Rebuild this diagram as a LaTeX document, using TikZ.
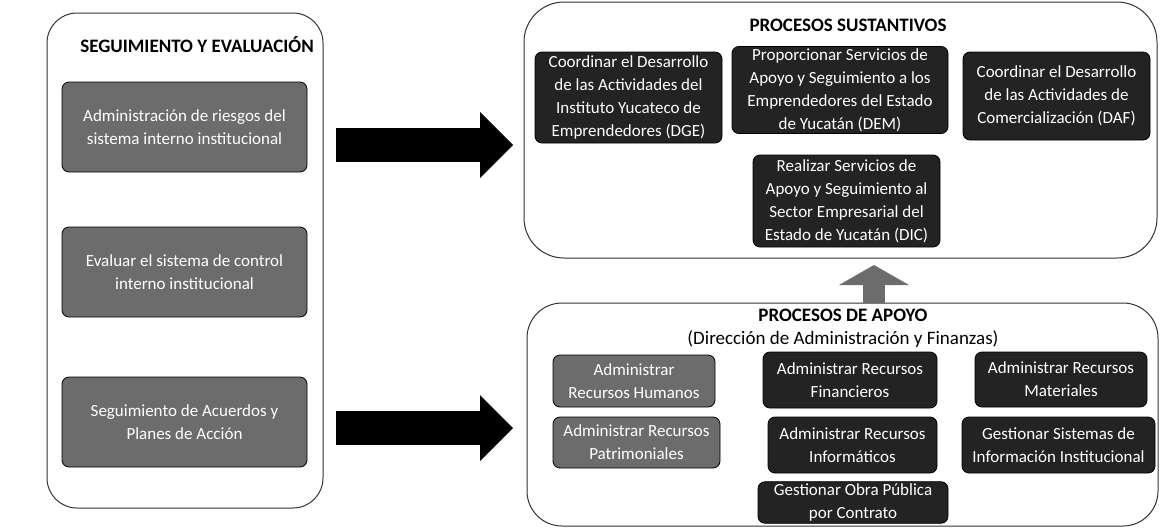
\documentclass[tikz,border=0pt]{standalone}
\usepackage{fontspec}
\setmainfont{Carlito}
\usepackage{tikz}
\usetikzlibrary{arrows.meta,positioning,calc}
\definecolor{pmid}{HTML}{6C6C6C}
\definecolor{pdark}{HTML}{232323}
\definecolor{pline}{HTML}{333333}
\tikzset{
  % Large rounded frame holding one group of processes.
  grp/.style   = {rectangle, rounded corners=#1, draw=pline, line width=1pt, fill=white},
  grp/.default = 35pt,
  blk/.style   = {rectangle, rounded corners=7pt, draw=black, fill=#1, line width=0.8pt,
                  text=white, align=center, inner sep=2pt,
                  font=\fontsize{17}{23}\selectfont},
  blk/.default = pmid,
  ttl/.style   = {font=\fontsize{19}{23}\selectfont\bfseries, align=center},
  fat/.style   = {-{Triangle[length=33pt,width=66pt,line width=0pt]}, line width=34pt, black},
  up/.style    = {-{Triangle[length=20pt,width=70pt,line width=0pt]}, line width=22pt, pmid},
}
\begin{document}
\begin{tikzpicture}[x=1pt,y=-1pt]
\useasboundingbox (0,0) rectangle (1162,528);
% seguimiento y evaluacion
\node[grp=30pt, minimum width=276pt, minimum height=495pt] (seg) at (185,260.5) {};
\node[ttl] (segt) at (197,45) {SEGUIMIENTO Y EVALUACIÓN};
\node[blk, minimum width=245pt, minimum height=90pt] (riesgo) at (184.5,127)
      {Administración de riesgos del\\sistema interno institucional};
\node[blk, minimum width=245pt, minimum height=90pt] (evaluar) at (184.5,272)
      {Evaluar el sistema de control\\interno institucional};
\node[blk, minimum width=245pt, minimum height=90pt] (acuerdos) at (184.5,422)
      {Seguimiento de Acuerdos y\\Planes de Acción};
% procesos sustantivos
\node[grp=40pt, minimum width=633pt, minimum height=256pt] (sust) at (840.5,130) {};
\node[ttl] (sustt) at (848,25) {PROCESOS SUSTANTIVOS};
\node[blk=pdark, minimum width=187pt, minimum height=91pt] (dge) at (628.5,97.5)
      {Coordinar el Desarrollo\\de las Actividades del\\Instituto Yucateco de\\Emprendedores (DGE)};
\node[blk=pdark, minimum width=216pt, minimum height=86pt] (dem) at (840,90)
      {Proporcionar Servicios de\\Apoyo y Seguimiento a los\\Emprendedores del Estado\\de Yucatán (DEM)};
\node[blk=pdark, minimum width=187pt, minimum height=88pt] (daf) at (1056.5,96)
      {Coordinar el Desarrollo\\de las Actividades de\\Comercialización (DAF)};
\node[blk=pdark, minimum width=187pt, minimum height=92pt] (dic) at (846.5,201)
      {Realizar Servicios de\\Apoyo y Seguimiento al\\Sector Empresarial del\\Estado de Yucatán (DIC)};
% procesos de apoyo
\node[grp=35pt, minimum width=631pt, minimum height=223pt] (apoyo) at (842.5,414.5) {};
\node[ttl] (apoyot) at (843,328.5)
      {PROCESOS DE APOYO\\{\mdseries(Dirección de Administración y Finanzas)}};
\node[blk, minimum width=162pt, minimum height=52pt] (humanos) at (634,381)
      {Administrar\\Recursos Humanos};
\node[blk, minimum width=167pt, minimum height=51pt] (patrim) at (636.5,442.5)
      {Administrar Recursos\\Patrimoniales};
\node[blk=pdark, minimum width=174pt, minimum height=56pt] (finan) at (850,380)
      {Administrar Recursos\\Financieros};
\node[blk=pdark, minimum width=169pt, minimum height=56pt] (inform) at (852.5,445)
      {Administrar Recursos\\Informáticos};
\node[blk=pdark, minimum width=190pt, minimum height=41pt] (obra) at (853,502.5)
      {Gestionar Obra Pública\\por Contrato};
\node[blk=pdark, minimum width=172pt, minimum height=55pt] (mater) at (1061,379.5)
      {Administrar Recursos\\Materiales};
\node[blk=pdark, minimum width=193pt, minimum height=56pt] (sistem) at (1058.5,445)
      {Gestionar Sistemas de\\Información Institucional};
% flechas
\coordinate (f1a) at (336,145);
\coordinate (f1b) at (513,145);
\coordinate (f2a) at (336,428);
\coordinate (f2b) at (513,428);
\coordinate (f3a) at (874,303);
\coordinate (f3b) at (874,265);
\draw[fat] (f1a) -- (f1b);
\draw[fat] (f2a) -- (f2b);
\draw[up] (f3a) -- (f3b);
\end{tikzpicture}
\end{document}
